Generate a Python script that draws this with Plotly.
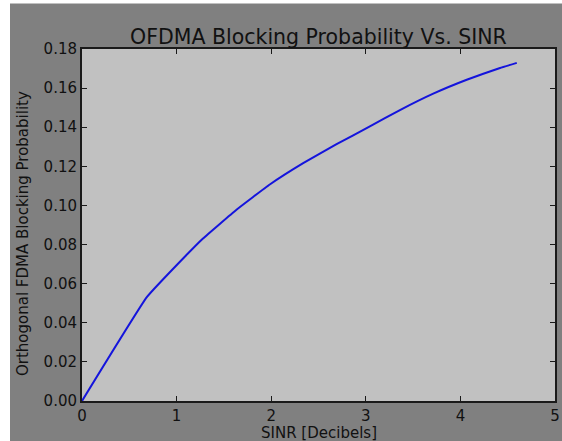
import plotly.graph_objects as go

# Data
sinr_db = [0.0, 0.687, 1.099, 1.279, 1.633, 1.985, 2.338, 2.691, 3.043, 3.361, 3.713, 4.067, 4.419, 4.596]
block_prob = [0.0, 0.0532, 0.0744, 0.0831, 0.0978, 0.1107, 0.1216, 0.1313, 0.1404, 0.1488, 0.1572, 0.1643, 0.1703, 0.1729]

x_ticks = [0, 1, 2, 3, 4, 5]
y_ticks = [0.00, 0.02, 0.04, 0.06, 0.08, 0.10, 0.12, 0.14, 0.16, 0.18]

title_text = "OFDMA Blocking Probability Vs. SINR"
x_title = "SINR [Decibels]"
y_title = "Orthogonal FDMA Blocking Probability"

FONT = "DejaVu Sans"
W, H = 562, 441
L, R, T, B = 82, 7, 49, 40
PW, PH = W - L - R, H - T - B

fig = go.Figure()
fig.add_trace(go.Scatter(
    x=sinr_db, y=block_prob, mode="lines",
    line=dict(color="#1414dc", width=2, shape="spline", smoothing=0.3),
    showlegend=False, hoverinfo="skip",
))

axis_common = dict(
    showgrid=False, zeroline=False, automargin=False,
    showline=True, linecolor="#1a1a1a", linewidth=2, mirror="ticks",
    ticks="inside", ticklen=5, tickwidth=1, tickcolor="#1a1a1a",
    tickfont=dict(family=FONT, size=15, color="#111111"),
)

fig.update_xaxes(range=[0, 5], tickvals=x_ticks, ticktext=[str(v) for v in x_ticks], **axis_common)
fig.update_yaxes(range=[0, 0.18], tickvals=y_ticks, ticktext=[f"{v:.2f}" for v in y_ticks], **axis_common)

fig.update_layout(
    width=W, height=H, autosize=False,
    margin=dict(l=L, r=R, t=T, b=B, autoexpand=False),
    paper_bgcolor="#808080",
    plot_bgcolor="#c1c1c1",
    font=dict(family=FONT, color="#111111"),
    annotations=[
        dict(text=title_text, xref="paper", yref="paper", x=0.5, y=1.0, yshift=-2,
             xanchor="center", yanchor="bottom", showarrow=False,
             font=dict(family=FONT, size=20.5, color="#111111")),
        dict(text=x_title, xref="paper", yref="paper", x=0.5, y=0, yshift=-21,
             xanchor="center", yanchor="top", showarrow=False,
             font=dict(family=FONT, size=15, color="#111111")),
        dict(text=y_title, xref="paper", yref="paper", x=0, y=0.5, xshift=-59, yshift=-9,
             xanchor="center", yanchor="middle", textangle=-90, showarrow=False,
             font=dict(family=FONT, size=15, color="#111111")),
    ],
    shapes=[
        dict(type="rect", xref="paper", yref="paper",
             x0=-0.2, x1=(10 - L) / PW, y0=-0.2, y1=1.2,
             fillcolor="white", line=dict(width=0), layer="above"),
        dict(type="rect", xref="paper", yref="paper",
             x0=-0.2, x1=1.1, y0=(H - B - 3.5) / PH, y1=1.2,
             fillcolor="white", line=dict(width=0), layer="above"),
    ],
)

fig.write_html(
    "out.html",
    config={"displayModeBar": False, "responsive": False},
    post_script="document.body.style.margin='0';document.body.style.overflow='hidden';",
)
